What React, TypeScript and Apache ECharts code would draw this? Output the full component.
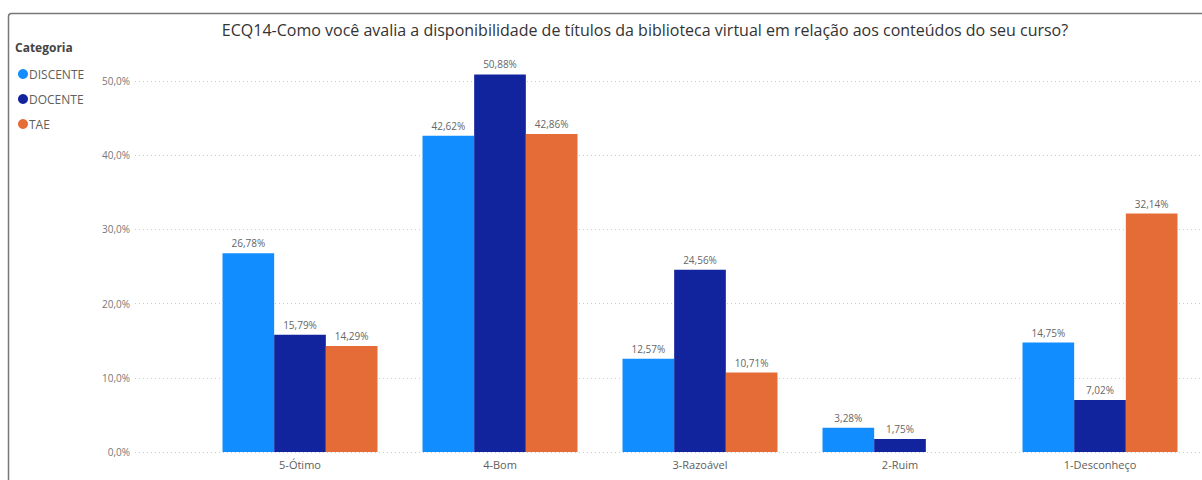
import React, { useEffect, useRef } from "react";
import * as echarts from "echarts";

const titleText =
  "ECQ14-Como você avalia a disponibilidade de títulos da biblioteca virtual em relação aos conteúdos do seu curso?";
const categories = ["5-Ótimo", "4-Bom", "3-Razoável", "2-Ruim", "1-Desconheço"];
const seriesNames = ["DISCENTE", "DOCENTE", "TAE"];
const discente = [26.78, 42.62, 12.57, 3.28, 14.75];
const docente = [15.79, 50.88, 24.56, 1.75, 7.02];
const tae: (number | null)[] = [14.29, 42.86, 10.71, null, 32.14];
const colors = ["#118DFF", "#12239E", "#E66C37"];

const fmtPct = (v: number, d: number) => v.toFixed(d).replace(".", ",") + "%";

export default function App() {
  const ref = useRef<HTMLDivElement>(null);
  useEffect(() => {
    if (!ref.current) return;
    const chart = echarts.init(ref.current, undefined, { renderer: "svg" });
    const font = "'Open Sans', 'Noto Sans', sans-serif";
    const dataSets = [discente, docente, tae];
    chart.setOption({
      animation: false,
      textStyle: { fontFamily: font },
      title: {
        text: titleText,
        left: 640,
        textAlign: "center",
        top: 17,
        textStyle: { fontSize: 16, fontWeight: "normal", color: "#333333", fontFamily: font },
      },
      graphic: [
        {
          type: "rect",
          shape: { x: 8.5, y: 13.5, width: 1300, height: 600, r: 3 },
          style: { fill: "none", stroke: "#777777", lineWidth: 1.5 },
          silent: true,
        },
        {
          type: "text",
          left: 15,
          top: 41,
          style: { text: "Categoria", fontSize: 12, fontWeight: "bold", fill: "#444444", fontFamily: font },
        },
      ],
      legend: {
        orient: "vertical",
        left: 13,
        top: 63,
        icon: "circle",
        itemWidth: 10,
        itemHeight: 10,
        itemGap: 13,
        data: seriesNames,
        textStyle: { fontSize: 12, color: "#605e5c", padding: [0, 0, 0, -4] },
      },
      grid: [
        { left: 200, right: 2, top: 81, bottom: 28 },
        { left: 135, right: 2, top: 81, bottom: 28 },
      ],
      xAxis: [
        {
          type: "category",
          data: categories,
          gridIndex: 0,
          axisLine: { show: false },
          axisTick: { show: false },
          axisLabel: { fontSize: 11, color: "#605e5c", margin: 7 },
        },
        { type: "value", gridIndex: 1, show: false, min: 0, max: 1 },
      ],
      yAxis: [
        {
          type: "value",
          gridIndex: 0,
          min: 0,
          max: 50,
          interval: 10,
          axisLabel: { show: false },
          splitLine: { show: false },
          axisLine: { show: false },
          axisTick: { show: false },
        },
        {
          type: "value",
          gridIndex: 1,
          min: 0,
          max: 50,
          interval: 10,
          axisLabel: {
            fontSize: 10,
            color: "#777777",
            margin: 5,
            formatter: (v: number) => fmtPct(v, 1),
          },
          splitLine: { show: true, lineStyle: { type: [1, 3], color: "#cccccc", width: 1 } },
          axisLine: { show: false },
          axisTick: { show: false },
        },
      ],
      series: seriesNames.map((name, i) => ({
        name,
        type: "bar",
        xAxisIndex: 0,
        yAxisIndex: 0,
        clip: false,
        barGap: "0%",
        barCategoryGap: "22.5%",
        itemStyle: { color: colors[i] },
        data: dataSets[i].map((v) => (v === null ? "-" : v)),
        label: {
          show: true,
          position: "top",
          distance: 5,
          fontSize: 10,
          color: "#666666",
          formatter: (p: any) => fmtPct(p.value as number, 2),
        },
      })),
    });
    return () => chart.dispose();
  }, []);
  return (
    <div
      ref={ref}
      style={{ position: "fixed", left: 0, top: 0, width: 1202, height: 480, background: "#ffffff" }}
    />
  );
}
